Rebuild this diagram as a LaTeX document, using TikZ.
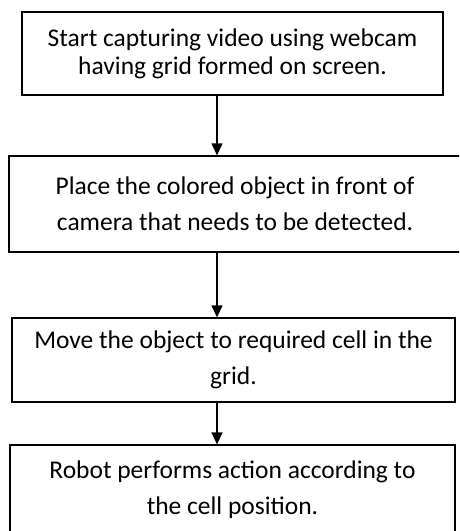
\documentclass[tikz,border=0pt]{standalone}
\usepackage{fontspec}
\setmainfont{Carlito}
\usetikzlibrary{arrows.meta}
\begin{document}
\begin{tikzpicture}[x=1pt,y=-1pt,
  stepbox/.style={draw,line width=1.3pt,inner sep=0pt,align=center,
    font=\fontsize{25.5}{36}\selectfont},
  flow/.style={line width=1.3pt,-{Triangle[length=12pt,width=11pt]}}]
\useasboundingbox (0,0) rectangle (459,531);
\clip (0,0) rectangle (459,531);
\coordinate (spine) at (217,0);
\node[stepbox,minimum width=421,minimum height=83,font=\fontsize{25.5}{28}\selectfont] (capture) at (232.5,53.5)
  {Start capturing video using webcam\\having grid formed on screen.};
\node[stepbox,minimum width=452,minimum height=96] (place) at (235,204)
  {Place the colored object in front of\\camera that needs to be detected.};
\node[stepbox,minimum width=443,minimum height=84] (move) at (233.5,360)
  {Move the object to required cell in the\\grid.};
\node[stepbox,minimum width=445,minimum height=90] (robot) at (232.5,490)
  {Robot performs action according to\\the cell position.};
\draw[flow] (capture.south -| spine) -- (place.north -| spine);
\draw[flow] (place.south -| spine) -- (move.north -| spine);
\draw[flow] (move.south -| spine) -- (robot.north -| spine);
\end{tikzpicture}
\end{document}
